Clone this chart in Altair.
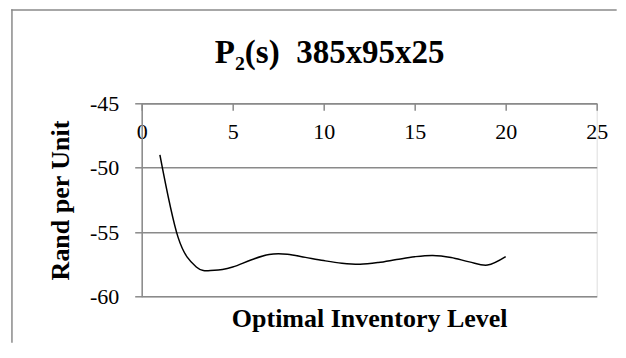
import altair as alt
import pandas as pd

# ---- data ----
x_vals = list(range(1, 21))
y_vals = [-49.0, -55.4, -57.7, -57.95, -57.7, -57.15, -56.72, -56.7, -56.95, -57.2,
          -57.4, -57.48, -57.35, -57.12, -56.9, -56.8, -56.96, -57.3, -57.55, -56.9]
x_ticks = [0, 5, 10, 15, 20, 25]
y_ticks = [-60, -55, -50, -45]
title_text = ["P\u2082(s)\u00a0\u00a0385x95x25"]

FONT = "Liberation Serif"
GRAY = "#8a8a8a"
W = 455
H = 193.4
PAD_L, PAD_T, PAD_R, PAD_B = 133.7, 95.3, 20, 46

df = pd.DataFrame({"x": x_vals, "y": y_vals})
xscale = alt.Scale(domain=[0, 25], nice=False, zero=False)
yscale = alt.Scale(domain=[-60, -45], nice=False, zero=False)

line = alt.Chart(df).mark_line(
    interpolate="cardinal", tension=0, color="black", strokeWidth=1.5
).encode(
    x=alt.X("x:Q", scale=xscale, axis=alt.Axis(
        orient="bottom", offset=-H, values=x_ticks, grid=False,
        tickSize=7, tickColor=GRAY, tickWidth=1.5, domainColor=GRAY, domainWidth=1.5,
        labelFont=FONT, labelFontSize=22, labelColor="black", labelPadding=11,
        labelFlush=False, labelOverlap=False,
        labelExpr="datum.value + ''",
        title="Optimal Inventory Level", titleFont=FONT, titleFontSize=26,
        titleFontWeight="bold", titleColor="black", titleBaseline="alphabetic",
        titleY=H + 30)),
    y=alt.Y("y:Q", scale=yscale, axis=alt.Axis(
        values=y_ticks, grid=True, gridColor=GRAY, gridWidth=1.5,
        tickSize=7, tickColor=GRAY, tickWidth=1.5, domainColor=GRAY, domainWidth=1.5,
        labelFont=FONT, labelFontSize=22, labelColor="black", labelPadding=16,
        labelFlush=False, labelOverlap=False,
        labelExpr="datum.value + ''",
        title="Rand per Unit", titleFont=FONT, titleFontSize=26,
        titleFontWeight="bold", titleColor="black", titleBaseline="alphabetic",
        titleX=-73, titleY=H / 2)),
)

# white strip over the right edge of the drawing area
edge_mask = alt.Chart(alt.Data(values=[{"k": 1}])).mark_rect(color="white").encode(
    x=alt.value(W + PAD_R - 5), x2=alt.value(W + PAD_R + 2),
    y=alt.value(-91.5), y2=alt.value(H + PAD_B + 2),
)

# outer chart frame (left and top edges only are visible in the reference)
frame_left = alt.Chart(alt.Data(values=[{"k": 1}])).mark_rect(color=GRAY).encode(
    x=alt.value(-130.5), x2=alt.value(-129.0),
    y=alt.value(-94.0), y2=alt.value(H + PAD_B),
)
frame_top = alt.Chart(alt.Data(values=[{"k": 1}])).mark_rect(color=GRAY).encode(
    x=alt.value(-130.5), x2=alt.value(W + PAD_R),
    y=alt.value(-94.0), y2=alt.value(-92.5),
)

title = alt.Chart(pd.DataFrame({"t": title_text})).mark_text(
    font=FONT, fontSize=33, fontWeight="bold", color="black",
    align="center", baseline="alphabetic"
).encode(
    text="t:N", x=alt.value(188), y=alt.value(-40.3),
)

chart = alt.layer(frame_left, frame_top, line, title, edge_mask).properties(
    width=W, height=H,
    padding={"left": PAD_L, "top": PAD_T, "right": PAD_R, "bottom": PAD_B},
    autosize="none",
).configure_view(stroke=None).configure(background="white")

chart.save("out.html", embed_options={"renderer": "svg", "actions": False})
